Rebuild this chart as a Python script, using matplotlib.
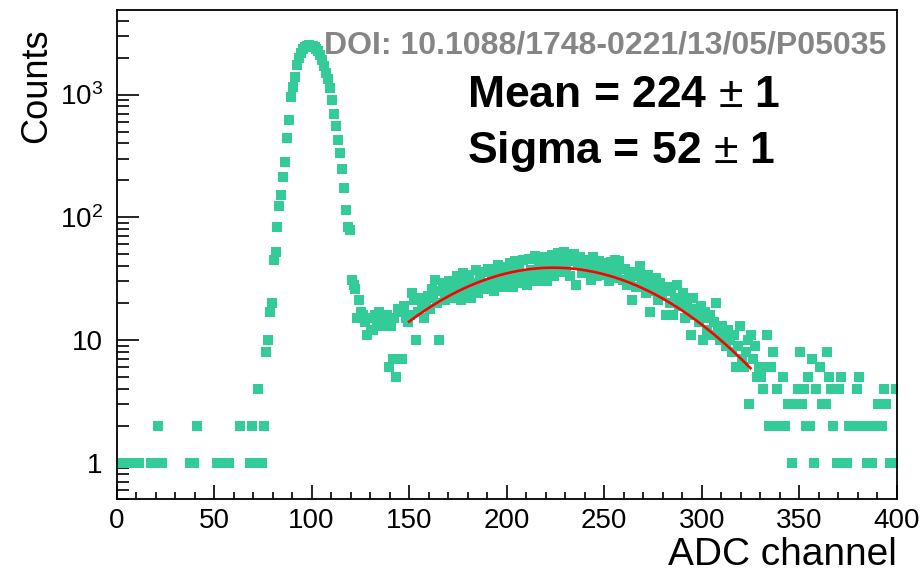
import numpy as np
import matplotlib
matplotlib.use("Agg")
import matplotlib.pyplot as plt
from matplotlib.ticker import MultipleLocator, FixedLocator, NullFormatter

plt.rcParams["font.family"] = ["Liberation Sans", "DejaVu Sans"]
plt.rcParams["mathtext.fontset"] = "custom"
plt.rcParams["mathtext.rm"] = "Liberation Sans"
plt.rcParams["mathtext.it"] = "Liberation Sans:italic"
plt.rcParams["mathtext.bf"] = "Liberation Sans:bold"

# Histogram contents, one entry per ADC channel (0..399), width 1 channel
counts = [
    1, 0, 0, 1, 0, 0, 1, 0, 0, 1,            # 0-9
    0, 1, 0, 0, 0, 0, 0, 1, 0, 1,            # 10-19
    0, 2, 0, 1, 0, 0, 0, 0, 0, 0,            # 20-29
    0, 0, 0, 0, 0, 0, 0, 1, 0, 1,            # 30-39
    0, 2, 0, 0, 0, 0, 0, 0, 0, 0,            # 40-49
    0, 1, 0, 0, 1, 0, 0, 1, 0, 0,            # 50-59
    0, 0, 0, 2, 0, 0, 0, 0, 1, 2,            # 60-69
    0, 1, 4, 0, 1, 2, 8, 10, 17, 20,         # 70-79
    45, 52, 84, 124, 152, 213, 284, 445, 620, 950,          # 80-89
    1150, 1400, 1750, 2000, 2200, 2350, 2450, 2500, 2530, 2510,  # 90-99
    2480, 2420, 2350, 2250, 2100, 1900, 1700, 1500, 1350, 1130,  # 100-109
    900, 700, 553, 430, 334, 248, 173, 115, 84, 78,        # 110-119
    31, 28, 26, 15, 21, 17, 16, 14, 11, 15,  # 120-129
    12, 12, 16, 14, 17, 15, 13, 14, 16, 6,   # 130-139
    13, 7, 15, 5, 18, 17, 7, 19, 15, 14,     # 140-149
    16, 24, 21, 10, 17, 22, 19, 15, 20, 23,  # 150-159
    18, 26, 22, 31, 20, 10, 25, 29, 21, 24,  # 160-169
    30, 22, 27, 24, 33, 28, 21, 35, 25, 30,  # 170-179
    34, 22, 29, 26, 37, 24, 31, 28, 36, 26,  # 180-189
    38, 27, 32, 25, 35, 41, 29, 34, 27, 39,  # 190-199
    30, 42, 35, 27, 44, 32, 38, 29, 45, 34,  # 200-209
    28, 46, 37, 32, 48, 30, 40, 35, 47, 33,  # 210-219
    30, 43, 38, 49, 33, 42, 51, 36, 46, 52,  # 220-229
    39, 48, 33, 44, 50, 28, 41, 47, 35, 43,  # 230-239
    45, 36, 40, 31, 47, 38, 33, 44, 37, 42,  # 240-249
    34, 40, 30, 43, 36, 45, 32, 44, 38, 31,  # 250-259
    38, 28, 35, 31, 21, 36, 27, 33, 40, 29,  # 260-269
    31, 24, 34, 17, 28, 25, 32, 21, 29, 23,  # 270-279
    26, 16, 27, 20, 25, 16, 22, 28, 19, 21,  # 280-289
    24, 15, 20, 17, 11, 22, 16, 18, 14, 19,  # 290-299
    10, 17, 12, 15, 16, 11, 14, 20, 12, 10,  # 300-309
    13, 11, 9, 12, 10, 8, 11, 6, 9, 13,      # 310-319
    7, 6, 8, 10, 3, 11, 7, 9, 5, 6,          # 320-329
    5, 4, 6, 11, 2, 6, 8, 2, 4, 2,           # 330-339
    0, 5, 2, 0, 3, 0, 1, 3, 0, 4,            # 340-349
    8, 3, 4, 2, 5, 2, 7, 1, 4, 0,            # 350-359
    6, 3, 0, 3, 8, 5, 4, 2, 0, 1,            # 360-369
    4, 5, 1, 0, 1, 2, 0, 0, 2, 4,            # 370-379
    5, 2, 0, 0, 1, 2, 0, 1, 2, 0,            # 380-389
    3, 0, 2, 4, 3, 0, 1, 0, 1, 4,            # 390-399
]

# Gaussian fit result shown on the plot
fit_mean = 224.0
fit_sigma = 52.0
fit_const = 38.8
fit_range = (150.0, 325.0)

x_ticks = [0, 50, 100, 150, 200, 250, 300, 350, 400]
y_ticks = [1, 10, 100, 1000]
y_tick_labels = ["1", "10", r"$10^{2}$", r"$10^{3}$"]

marker_color = "#33CC99"

fig = plt.figure(figsize=(9.22, 5.73), dpi=100)
ax = fig.add_axes([0.1264, 0.1283, 0.8462, 0.8542])

counts_arr = np.asarray(counts, dtype=float)
centers = np.arange(len(counts_arr)) + 0.5
filled = counts_arr > 0
ax.plot(centers[filled], counts_arr[filled], linestyle="none", marker="s",
        markersize=7.6, markeredgewidth=0, color=marker_color, zorder=2)

xf = np.linspace(fit_range[0], fit_range[1], 300)
yf = fit_const * np.exp(-0.5 * ((xf - fit_mean) / fit_sigma) ** 2)
ax.plot(xf, yf, color="#FF0000", linewidth=1.9, zorder=3)

ax.set_yscale("log")
ax.set_xlim(0, 400)
ax.set_ylim(0.5, 4890)

ax.xaxis.set_major_locator(FixedLocator(x_ticks))
ax.xaxis.set_minor_locator(MultipleLocator(10))
ax.yaxis.set_major_locator(FixedLocator(y_ticks))
ax.set_yticklabels(y_tick_labels)
minor_y = [m * 10.0 ** e for e in range(-1, 4) for m in range(2, 10)]
ax.yaxis.set_minor_locator(FixedLocator(minor_y))
ax.yaxis.set_minor_formatter(NullFormatter())

for side in ax.spines.values():
    side.set_linewidth(1.3)
    side.set_color("black")

ax.tick_params(axis="x", which="major", direction="in", length=10, width=1.2,
               labelsize=20, pad=6, top=False)
ax.tick_params(axis="x", which="minor", direction="in", length=5, width=1.2, top=False)
ax.tick_params(axis="y", which="major", direction="in", length=16, width=1.2,
               labelsize=20, pad=10, right=False)
ax.tick_params(axis="y", which="minor", direction="in", length=8.5, width=1.2, right=False)

ax.text(1.0, -0.077, "ADC channel", transform=ax.transAxes, ha="right", va="top",
        fontsize=28)
ax.text(-0.102, 0.963, "Counts", transform=ax.transAxes, ha="center", va="top",
        rotation=90, fontsize=26)

fig.text(0.961, 0.921, "DOI: 10.1088/1748-0221/13/05/P05035", ha="right", va="center",
         fontsize=23, fontweight="bold", color="#858585")
fig.text(0.5065, 0.833, r"Mean = 224 $\pm$ 1", ha="left", va="center",
         fontsize=32, fontweight="bold")
fig.text(0.5065, 0.735, r"Sigma = 52 $\pm$ 1", ha="left", va="center",
         fontsize=32, fontweight="bold")

fig.savefig("out.png", dpi=100)
